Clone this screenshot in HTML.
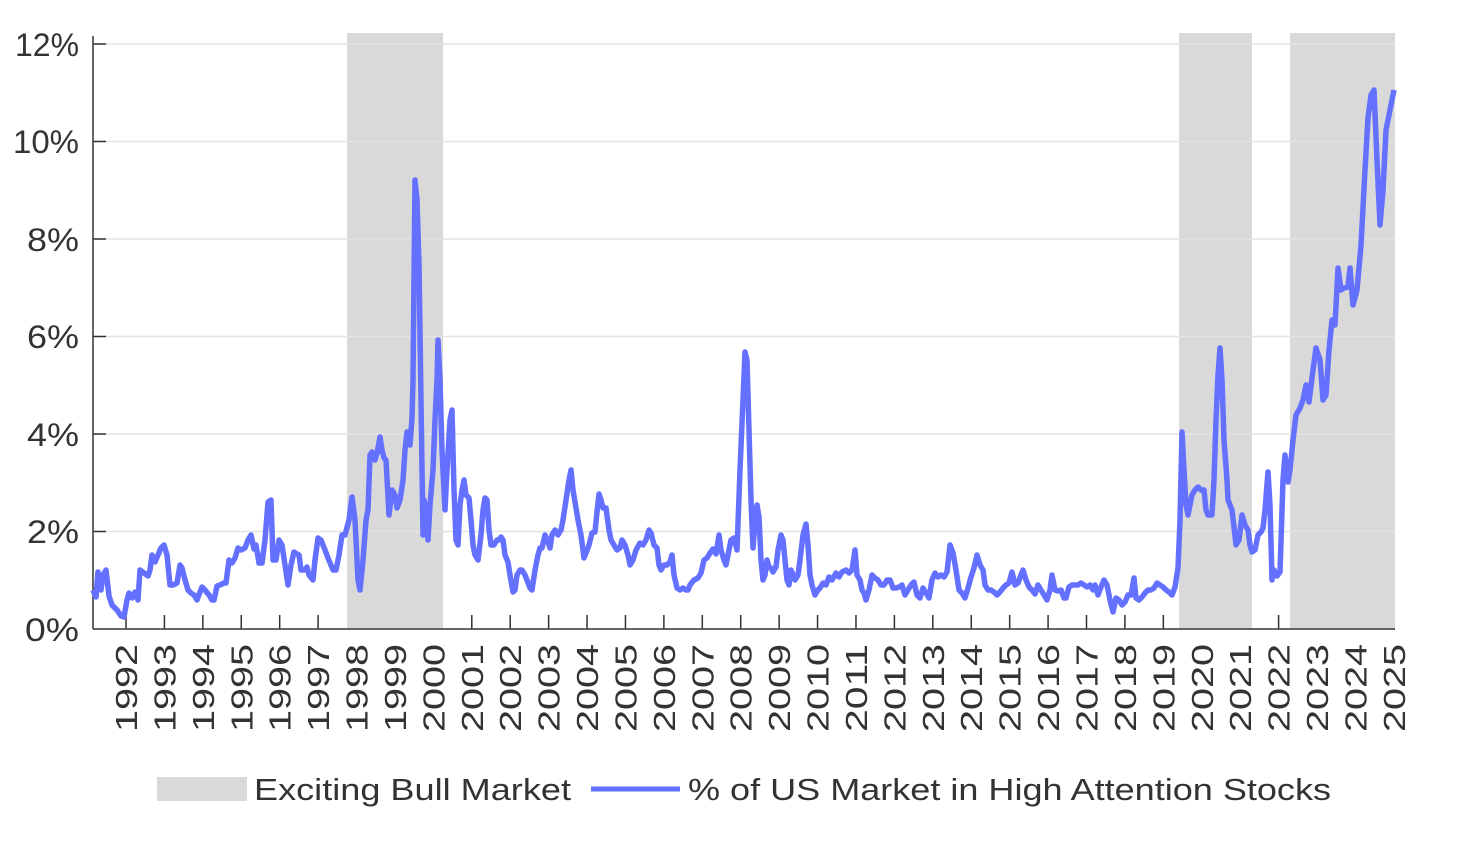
<!DOCTYPE html>
<html><head><meta charset="utf-8"><style>
body{margin:0;background:#fff;}
svg{display:block;font-family:"Liberation Sans",sans-serif;}
</style></head><body>
<svg width="1457" height="843" viewBox="0 0 1457 843">
<g fill="#d9d9d9">
<rect x="347" y="33" width="96" height="596"/>
<rect x="1179" y="33" width="73" height="596"/>
<rect x="1290" y="33" width="105" height="596"/>
</g>
<g stroke="#e3e3e3" stroke-width="1.5">
<line x1="93" y1="44" x2="1395" y2="44"/>
<line x1="93" y1="141.5" x2="1395" y2="141.5"/>
<line x1="93" y1="239" x2="1395" y2="239"/>
<line x1="93" y1="336.5" x2="1395" y2="336.5"/>
<line x1="93" y1="434" x2="1395" y2="434"/>
<line x1="93" y1="531.5" x2="1395" y2="531.5"/>
</g>
<g stroke="#333" stroke-width="1.5">
<line x1="93" y1="36" x2="93" y2="629"/>
<line x1="93" y1="629" x2="1395" y2="629"/>
<line x1="93" y1="44" x2="106" y2="44"/>
<line x1="93" y1="141.5" x2="106" y2="141.5"/>
<line x1="93" y1="239" x2="106" y2="239"/>
<line x1="93" y1="336.5" x2="106" y2="336.5"/>
<line x1="93" y1="434" x2="106" y2="434"/>
<line x1="93" y1="531.5" x2="106" y2="531.5"/>
</g>
<g stroke="#333" stroke-width="1.5" id="ticks"></g>
<g font-size="32" fill="#333" text-anchor="end">
<text x="79" y="56" textLength="64" lengthAdjust="spacingAndGlyphs">12%</text>
<text x="79" y="153" textLength="66" lengthAdjust="spacingAndGlyphs">10%</text>
<text x="79" y="251" textLength="52" lengthAdjust="spacingAndGlyphs">8%</text>
<text x="79" y="348" textLength="52" lengthAdjust="spacingAndGlyphs">6%</text>
<text x="79" y="446" textLength="52" lengthAdjust="spacingAndGlyphs">4%</text>
<text x="79" y="543" textLength="52" lengthAdjust="spacingAndGlyphs">2%</text>
<text x="79" y="641" textLength="54" lengthAdjust="spacingAndGlyphs">0%</text>
</g>
<g font-size="31" fill="#333" text-anchor="end" id="xl"></g>
<polyline fill="none" stroke="#6470ff" stroke-width="5.5" stroke-linejoin="round" points="93,590 96,597 98,572 101,590 103,575 106,570 109,596 112,605 117,610 121,616 124,617 127,600 129,593 132,598 135,592 138,600 140,570 144,573 148,576 150,570 152,555 155,562 158,555 161,548 164,545 167,555 170,585 173,585 177,583 180,565 182,568 185,580 188,590 191,593 194,595 197,600 200,592 202,587 205,590 209,595 212,600 214,600 217,586 220,585 224,583 226,583 229,560 232,563 235,558 238,548 241,550 245,548 248,540 251,535 254,549 256,545 259,563 262,563 265,540 268,502 271,500 273,560 276,560 279,540 282,545 285,565 288,585 291,565 294,552 297,554 299,555 301,570 305,570 307,567 309,575 313,580 315,560 318,538 321,540 325,550 328,558 333,570 336,570 339,555 342,535 345,535 349,520 352,497 355,520 358,580 360,590 363,560 366,520 368,510 370,455 372,452 375,460 377,453 380,437 382,450 384,458 386,460 389,515 392,490 395,495 397,508 400,500 403,480 405,450 407,432 410,445 412,418 413,380 415,180 417,200 419,265 421,400 423,535 424,500 426,510 428,540 430,505 433,470 435,420 437,380 438,340 440,380 442,450 445,510 447,470 450,420 452,410 454,490 456,540 458,545 460,505 462,490 464,480 466,495 469,498 471,520 473,545 475,555 478,560 481,535 483,510 485,498 487,500 489,530 491,545 494,545 497,540 499,540 501,537 503,540 505,555 508,562 510,575 513,592 515,590 517,575 520,570 522,570 525,575 527,580 530,588 532,590 535,570 538,555 540,548 542,548 545,535 548,542 550,548 552,535 555,530 558,535 561,530 563,520 566,500 569,480 571,470 573,490 576,508 578,520 581,535 584,558 586,553 589,545 592,533 595,532 597,512 599,494 601,500 603,508 606,508 609,530 611,540 614,545 617,550 620,548 622,540 625,545 628,555 630,565 633,560 636,550 640,543 643,545 646,540 649,530 651,533 654,545 657,548 659,565 661,570 664,565 667,565 670,562 672,555 674,575 677,588 680,590 683,588 686,590 688,590 690,585 694,580 698,578 701,573 704,560 707,558 710,553 713,549 716,554 719,535 721,550 724,560 726,565 729,550 731,540 734,538 737,550 740,470 743,400 745,352 747,360 749,430 751,500 753,548 755,522 757,505 759,517 761,560 763,580 765,575 767,560 769,567 771,568 773,572 776,567 778,550 781,535 783,540 785,560 787,580 789,585 791,570 793,575 795,580 798,575 800,560 803,535 806,524 808,545 810,575 812,585 815,595 818,590 820,588 823,583 826,585 829,577 832,580 836,573 839,577 842,572 846,570 849,573 852,570 855,550 857,575 860,580 862,590 864,593 866,600 869,590 872,575 875,578 878,580 881,585 884,585 887,580 890,580 893,588 896,588 899,587 902,585 905,595 908,590 911,585 914,582 917,595 920,598 923,588 926,593 929,598 932,580 935,573 938,577 941,575 944,577 947,572 950,545 953,553 956,570 959,590 962,593 965,598 968,588 971,577 974,568 977,555 980,565 983,570 985,585 988,590 991,590 994,592 997,595 1000,592 1003,588 1006,585 1009,583 1012,572 1015,585 1018,583 1021,575 1023,570 1026,580 1029,587 1032,590 1035,594 1038,585 1041,590 1044,595 1047,600 1050,590 1052,575 1055,590 1058,591 1061,590 1064,598 1066,598 1069,587 1072,585 1075,585 1078,585 1081,583 1084,585 1087,587 1090,585 1093,590 1095,585 1098,595 1101,587 1104,580 1107,585 1110,600 1113,612 1116,598 1119,600 1122,605 1125,602 1128,595 1131,595 1134,578 1136,598 1139,600 1142,597 1145,593 1148,590 1151,590 1154,588 1157,583 1160,585 1163,587 1166,590 1169,592 1172,595 1175,587 1178,568 1180,520 1182,432 1184,470 1186,505 1188,515 1190,505 1192,495 1195,490 1198,487 1201,490 1204,490 1206,510 1208,515 1212,515 1214,480 1216,420 1218,375 1220,348 1222,380 1224,440 1227,480 1228,500 1232,510 1234,527 1236,545 1239,540 1242,515 1245,525 1248,530 1250,545 1252,552 1255,550 1258,535 1261,532 1263,528 1265,510 1268,472 1270,505 1272,580 1274,570 1277,576 1280,572 1283,480 1285,455 1288,482 1290,470 1293,440 1296,415 1300,408 1303,400 1306,385 1309,402 1313,370 1316,348 1320,360 1323,400 1326,395 1329,350 1332,320 1335,325 1338,268 1341,290 1344,288 1348,287 1350,268 1353,305 1357,290 1361,245 1365,170 1368,118 1371,95 1374,90 1377,160 1380,225 1383,190 1386,130 1390,110 1394,90"/>
<rect x="157" y="777" width="90" height="24" fill="#d9d9d9"/>
<text x="254" y="800" font-size="31" fill="#333" textLength="317" lengthAdjust="spacingAndGlyphs">Exciting Bull Market</text>
<line x1="591" y1="789" x2="680" y2="789" stroke="#6470ff" stroke-width="5"/>
<text x="688" y="800" font-size="31" fill="#333" textLength="643" lengthAdjust="spacingAndGlyphs">% of US Market in High Attention Stocks</text>
</svg>
<script>
var t=document.getElementById('ticks'),xl=document.getElementById('xl'),ns='http://www.w3.org/2000/svg';
var sh=[[347,443],[1179,1252],[1290,1395]];
for(var i=0;i<34;i++){var x=126+i*38.42;var y=1992+i;
var inS=sh.some(function(s){return x>s[0]&&x<s[1];});
if(!inS){var l=document.createElementNS(ns,'line');l.setAttribute('x1',x);l.setAttribute('x2',x);l.setAttribute('y1',615);l.setAttribute('y2',629);t.appendChild(l);}
var tx=document.createElementNS(ns,'text');tx.setAttribute('transform','translate('+(x+11)+',644) rotate(-90)');tx.setAttribute('textLength','88');tx.setAttribute('lengthAdjust','spacingAndGlyphs');tx.textContent=y;xl.appendChild(tx);}
</script>
</body></html>
